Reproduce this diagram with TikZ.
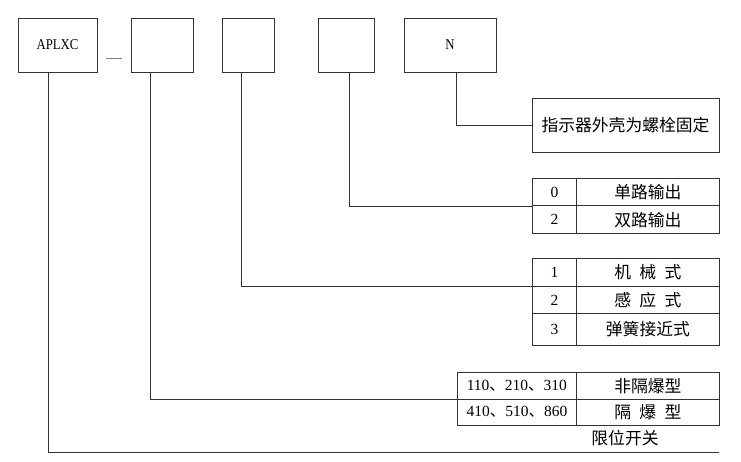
\documentclass[tikz,border=0pt]{standalone}
\usepackage{fontspec}
\setmainfont{Liberation Serif}
\newfontfamily\cjk{Noto Sans CJK SC}
\newfontfamily\narrowserif[FakeStretch=0.85]{Liberation Serif}
\usetikzlibrary{calc}
\begin{document}
\begin{tikzpicture}[x=1pt,y=-1pt,
  ln/.style={draw=black!80, line width=0.8pt},
  box/.style={ln, inner sep=0pt, minimum height=54pt},
  cell/.style={ln, inner sep=0pt, anchor=north west},
  zh/.style={font=\cjk\fontsize{16.8}{19}\selectfont},
  lat/.style={font=\narrowserif\fontsize{15}{17}\selectfont},
  num/.style={font=\fontsize{15.5}{17}\selectfont},
  nc/.style={cell, num, minimum width=44pt},
  tc/.style={cell, zh, minimum width=143pt}]
\useasboundingbox (0,0) rectangle (741,462);
% top code boxes
\node[box, lat, minimum width=79pt] (b1) at (57.5,45) {APLXC};
\node[box, minimum width=62pt] (b2) at (162,45) {};
\node[box, minimum width=52pt] (b3) at (248,45) {};
\node[box, minimum width=56pt] (b4) at (346,45) {};
\node[box, lat, minimum width=92pt] (b5) at (450,45) {N};
\draw[black!50, line width=0.8pt] (106,58) -- (122,58);
% note box
\node[box, zh, minimum width=187pt] (note) at (625.5,125) {指示器外壳为螺栓固定};
% table 1
\node[nc, minimum height=27.5pt] (t1n1) at (532,178) {0};
\node[tc, minimum height=27.5pt] (t1t1) at (576,178) {单路输出};
\node[nc, minimum height=27.5pt] (t1n2) at (532,205.5) {2};
\node[tc, minimum height=27.5pt] (t1t2) at (576,205.5) {双路输出};
% table 2
\node[nc, minimum height=28pt] (t2n1) at (532,258) {1};
\node[tc, minimum height=28pt] (t2t1) at (576,258) {机\hspace{0.5em}械\hspace{0.5em}式};
\node[nc, minimum height=27pt] (t2n2) at (532,286) {2};
\node[tc, minimum height=27pt] (t2t2) at (576,286) {感\hspace{0.5em}应\hspace{0.5em}式};
\node[nc, minimum height=32pt] (t2n3) at (532,313) {3};
\node[tc, minimum height=32pt] (t2t3) at (576,313) {弹簧接近式};
% table 3
\node[cell, num, minimum width=119pt, minimum height=26.5pt] (t3n1) at (457,372) {110{\cjk 、}210{\cjk 、}310};
\node[tc, minimum height=26.5pt] (t3t1) at (576,372) {非隔爆型};
\node[cell, num, minimum width=119pt, minimum height=26.5pt] (t3n2) at (457,398.5) {410{\cjk 、}510{\cjk 、}860};
\node[tc, minimum height=26.5pt] (t3t2) at (576,398.5) {隔\hspace{0.5em}爆\hspace{0.5em}型};
\node[zh] (lbl) at (625,438) {限位开关};
% connectors
\draw[ln] ($(b5.south west)+(53,0)$) |- (note.west);
\draw[ln] ($(b4.south west)+(32,0)$) |- (t1n1.south west);
\draw[ln] ($(b3.south west)+(20,0)$) |- (t2n1.south west);
\draw[ln] ($(b2.south west)+(20,0)$) |- (t3n1.south west);
\coordinate (end) at (719,452);
\draw[ln] ($(b1.south west)+(31,0)$) |- (end);
\end{tikzpicture}
\end{document}
